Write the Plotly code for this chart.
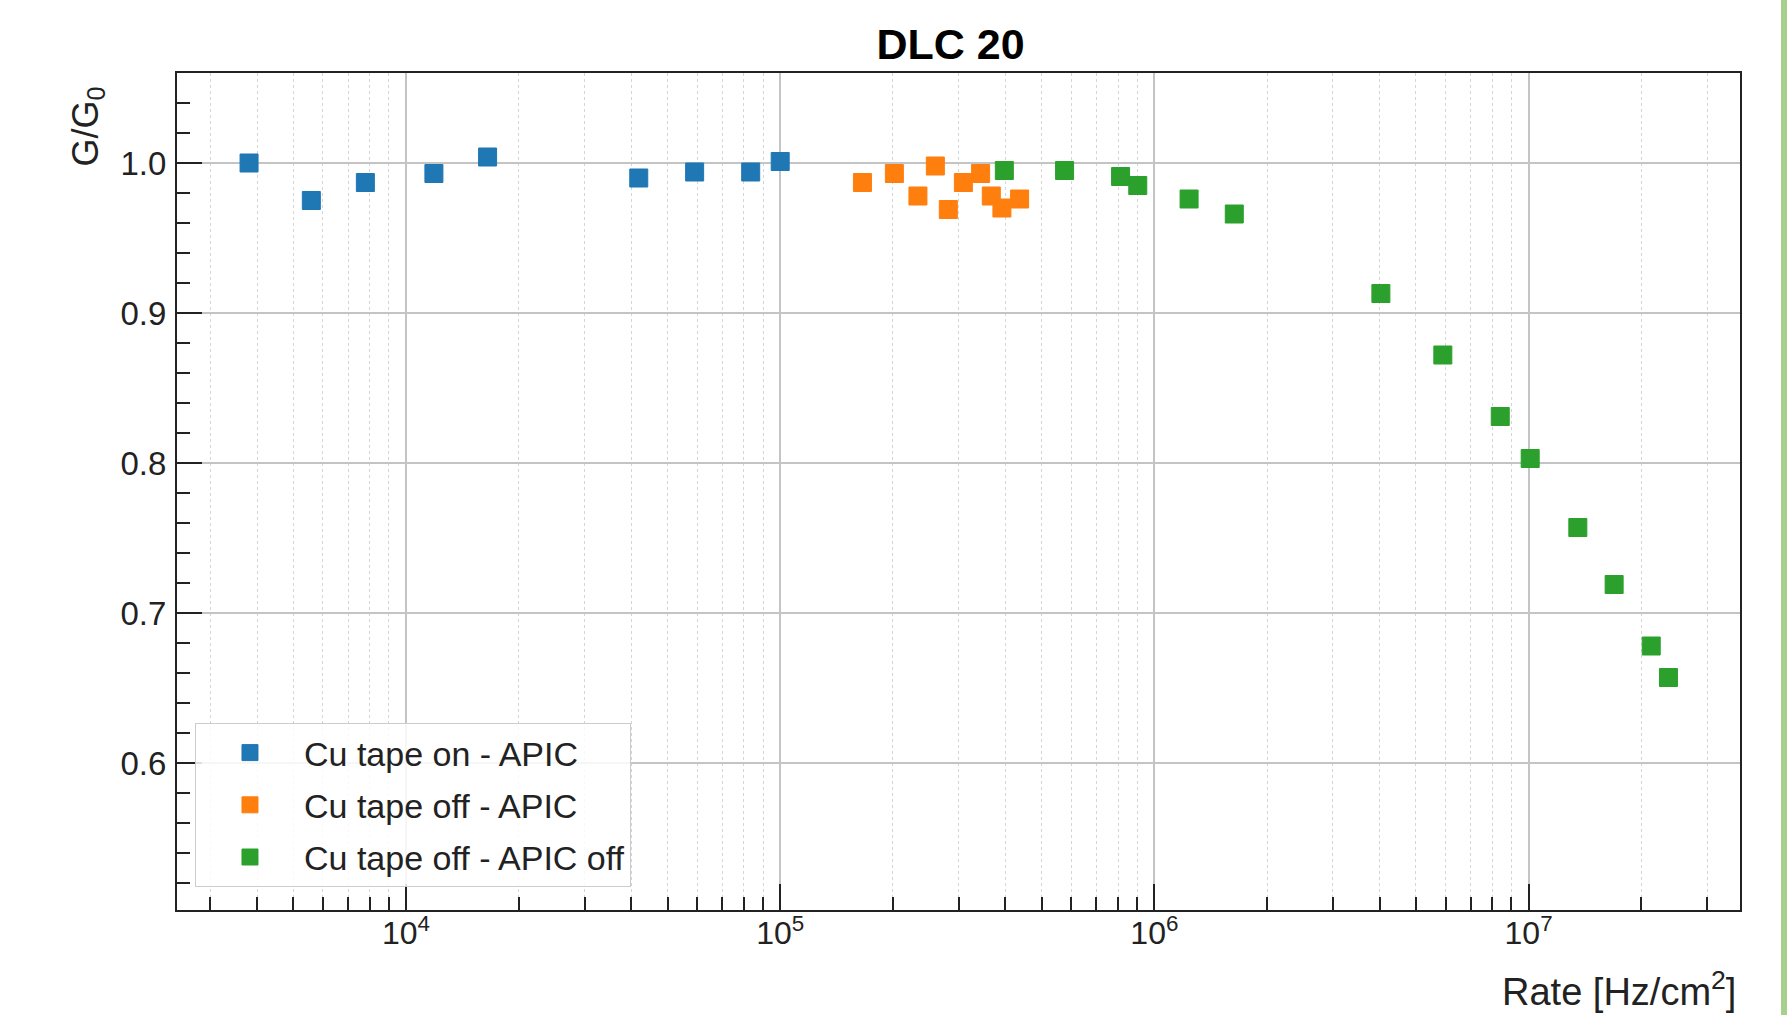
import plotly.graph_objects as go

# ---- data ----
rate_on_apic = [3807, 5585, 7787, 11873, 16520, 41880, 59070, 83400, 100000]
gain_on_apic = [1.000, 0.975, 0.987, 0.993, 1.004, 0.990, 0.994, 0.994, 1.001]

rate_off_apic = [165900, 201900, 233400, 259800, 281400, 308700, 343200, 366600, 391300, 436300]
gain_off_apic = [0.987, 0.993, 0.978, 0.998, 0.969, 0.987, 0.993, 0.978, 0.970, 0.976]

rate_off_off = [397200, 575400, 812100, 902800, 1238000, 1635000, 4030000, 5900000,
                8400000, 10100000, 13540000, 16930000, 21270000, 23650000]
gain_off_off = [0.995, 0.995, 0.991, 0.985, 0.976, 0.966, 0.913, 0.872,
                0.831, 0.803, 0.757, 0.719, 0.678, 0.657]

series_names = ["Cu tape on - APIC", "Cu tape off - APIC", "Cu tape off - APIC off"]
series_colors = ["#1f77b4", "#ff7f0e", "#2ca02c"]

x_major = [1e4, 1e5, 1e6, 1e7]
x_major_text = ["10<sup>4</sup>", "10<sup>5</sup>", "10<sup>6</sup>", "10<sup>7</sup>"]
x_minor = [m * 10 ** e for e in range(3, 8) for m in range(2, 10) if 2.4e3 < m * 10 ** e < 3.7e7]

FONT = "Liberation Sans, Arial, sans-serif"
TXT = "#222222"

fig = go.Figure()
for i, (xs, ys) in enumerate([(rate_on_apic, gain_on_apic),
                              (rate_off_apic, gain_off_apic),
                              (rate_off_off, gain_off_off)]):
    fig.add_trace(go.Scatter(
        x=xs, y=ys, mode="markers", name=series_names[i],
        legendgroup=f"g{i}",
        marker=dict(symbol="square", size=18, color=series_colors[i],
                    line=dict(width=1, color=series_colors[i])),
    ))

fig.update_layout(
    width=1787, height=1015,
    margin=dict(l=177, r=47, t=73, b=105),
    paper_bgcolor="white", plot_bgcolor="white",
    font=dict(family=FONT, color=TXT, size=32),
    title=dict(text="<b>DLC 20</b>", x=0.4949, xref="paper", xanchor="center",
               y=1 - 44 / 1015, yanchor="middle",
               font=dict(size=43, color="#000000", family=FONT)),
    showlegend=True,
    legend=dict(x=0.0115, y=(910 - 887) / 837, xanchor="left", yanchor="bottom",
                bgcolor="rgba(255,255,255,0.85)", bordercolor="#cccccc", borderwidth=1,
                font=dict(size=34, color=TXT, family=FONT),
                tracegroupgap=5, itemwidth=98),
)

fig.update_xaxes(
    type="log", range=[3.388, 7.565],
    tickmode="array", tickvals=x_major, ticktext=x_major_text,
    ticks="inside", ticklen=26, tickwidth=2, tickcolor="#222222",
    showline=True, linecolor="#222222", linewidth=2, mirror=True,
    showgrid=True, gridcolor="#c4c4c4", gridwidth=2,
    tickfont=dict(size=32, color=TXT), ticklabelstandoff=-6,
    minor=dict(tickmode="array", tickvals=x_minor, ticks="inside", ticklen=13,
               tickwidth=2, tickcolor="#222222",
               showgrid=True, gridcolor="#d4d4d4", gridwidth=1, griddash="dot"),
    zeroline=False,
)
fig.update_yaxes(
    range=[0.502, 1.06], tick0=0, dtick=0.1, tickformat=".1f",
    ticks="inside", ticklen=25, tickwidth=2, tickcolor="#222222",
    showline=True, linecolor="#222222", linewidth=2, mirror=True,
    showgrid=True, gridcolor="#c4c4c4", gridwidth=2,
    tickfont=dict(size=33, color=TXT), ticklabelstandoff=2,
    minor=dict(dtick=0.02, ticks="inside", ticklen=13, tickwidth=2,
               tickcolor="#222222", showgrid=False),
    zeroline=False,
)

# y label placed at the top of the axis, x label at the right end (as in the reference)
fig.add_annotation(text="G/G<sub>0</sub>", xref="paper", yref="paper",
                   x=(87.5 - 177) / 1563, y=(910 - 127) / 837,
                   xanchor="center", yanchor="middle", textangle=-90,
                   showarrow=False, font=dict(size=36, color=TXT, family=FONT))
fig.add_annotation(text="Rate [Hz/cm<sup>2</sup>]", xref="paper", yref="paper",
                   x=(1737.5 - 177) / 1563, y=(910 - 989) / 837,
                   xanchor="right", yanchor="middle",
                   showarrow=False, font=dict(size=38, color=TXT, family=FONT))

# thin green strip at the right edge of the picture
fig.add_shape(type="rect", xref="paper", yref="paper",
              x0=(1781 - 177) / 1563, x1=(1790 - 177) / 1563,
              y0=-0.2, y1=1.2, fillcolor="#a8d08d", line=dict(width=0), layer="above")

fig.write_html("out.html")
